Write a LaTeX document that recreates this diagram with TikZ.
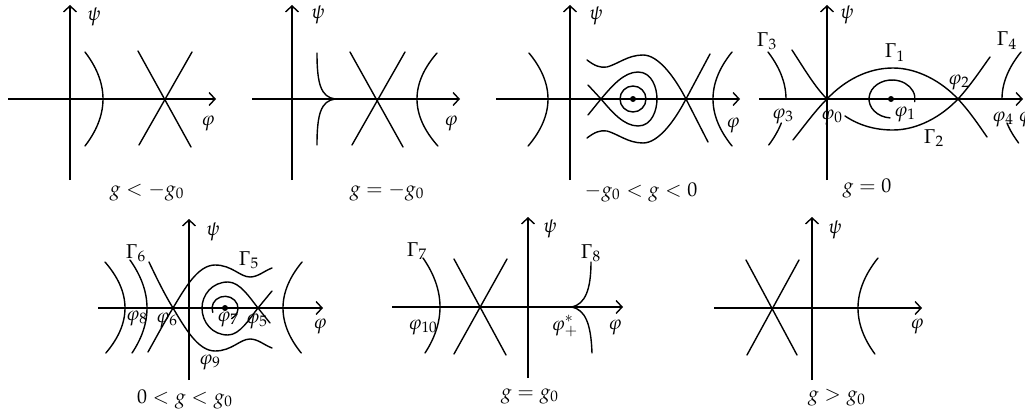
\documentclass[tikz,border=0pt]{standalone}
\usepackage{mathpazo}
\usetikzlibrary{arrows.meta}
\begin{document}
\begin{tikzpicture}[x=0.5pt,y=-0.5pt,
  curve/.style={line width=0.7pt, line cap=round},
  axis/.style={line width=0.7pt,-{Straight Barb[length=3pt,width=6.5pt,line width=0.7pt]}},
  lab/.style={inner sep=0pt, font=\fontsize{10}{12}\selectfont},
  dotstyle/.style={fill=black}]
\useasboundingbox (0,0) rectangle (1025,412);

% ---------- Panel 1: g < -g0
\draw[axis] (8,99) -- (216,99);
\draw[axis] (70,180) -- (70,5);
\draw[curve] plot[domain=-47:47,samples=40] ({103-0.00815*(\x)*(\x)},{99+\x});
\draw[curve] (138,51) -- (191,147);
\draw[curve] (192,52) -- (139,145);
\node[lab] (p1psi) at (94,17) {$\psi$};
\node[lab] (p1phi) at (208,123) {$\varphi$};
\node[lab] (p1cap) at (147,192) {$g<-g_0$};

% ---------- Panel 2: g = -g0
\draw[axis] (252,99) -- (460,99);
\draw[axis] (292,180) -- (292,5);
\draw[curve] (317,53) .. controls (317,84) and (321,97) .. (335,99) .. controls (321,101) and (317,114) .. (317,145);
\draw[curve] (350,52) -- (403,147);
\draw[curve] (405,52) -- (352,145);
\draw[curve] plot[domain=-46:47,samples=40] ({417+0.00945*(\x)*(\x)},{99+\x});
\node[lab] (p2psi) at (318,15) {$\psi$};
\node[lab] (p2phi) at (451,123) {$\varphi$};
\node[lab] (p2cap) at (387,192) {$g=-g_0$};

% ---------- Panel 3: -g0 < g < 0
\draw[axis] (496,99) -- (740,99);
\draw[axis] (570,180) -- (570,5);
\draw[curve] plot[domain=-46:47,samples=40] ({548-0.00898*(\x)*(\x)},{99+\x});
\draw[curve] plot[domain=-47:47,samples=40] ({713+0.0086*(\x)*(\x)},{99+\x});
\draw[curve] (633,99) circle[radius=13];
\fill[dotstyle] (633,99) circle[radius=3];
\draw[curve] (588,115) -- (601,99) .. controls (612,86) and (624,72) .. (638,72)
  .. controls (652,72) and (657,88) .. (657,99) .. controls (657,110) and (652,126) .. (638,126)
  .. controls (624,126) and (612,112) .. (601,99) -- (588,85);
\draw[curve] (587,60) .. controls (595,66) and (600,68) .. (607,67) .. controls (618,64) and (628,55) .. (643,55)
  .. controls (658,55) and (674,76) .. (686,99) -- (708,142);
\draw[curve] (587,138) .. controls (595,132) and (600,130) .. (607,131) .. controls (618,134) and (628,143) .. (643,143)
  .. controls (658,143) and (674,122) .. (686,99) -- (710,54);
\node[lab] (p3psi) at (596,16) {$\psi$};
\node[lab] (p3phi) at (733,125) {$\varphi$};
\node[lab] (p3cap) at (641,192) {$-g_0<g<0$};

% ---------- Panel 4: g = 0
\draw[axis] (759,99) -- (1023,99);
\draw[axis] (827,180) -- (827,5);
\draw[curve] (793,140) .. controls (805,125) and (815,111) .. (827,99) .. controls (845,80) and (868,68) .. (893,68)
  .. controls (918,68) and (942,82) .. (958,99) .. controls (970,112) and (978,124) .. (987,137);
\draw[curve] (792,50) .. controls (805,70) and (815,87) .. (827,99);
\draw[curve] (845,116) .. controls (860,126) and (876,130) .. (893,130) .. controls (918,130) and (942,116) .. (958,99)
  .. controls (970,86) and (980,71) .. (990,57);
\draw[curve] plot[domain=-47:0,samples=25] ({786-0.00815*(\x)*(\x)},{99+\x});
\draw[curve] plot[domain=24:46,samples=15] ({786-0.00815*(\x)*(\x)},{99+\x});
\draw[curve] plot[domain=-47:0,samples=25] ({1002+0.0086*(\x)*(\x)},{99+\x});
\draw[curve] plot[domain=24:44,samples=15] ({1002+0.0086*(\x)*(\x)},{99+\x});
\draw[curve] (890,117.9) arc[start angle=95, end angle=368, x radius=23, y radius=19];
\fill[dotstyle] (891,99) circle[radius=3];
\node[lab] (p4psi) at (847,15) {$\psi$};
\node[lab] (G3) at (767,41) {$\Gamma_3$};
\node[lab] (G1) at (895,53) {$\Gamma_1$};
\node[lab] (G4) at (1007,41) {$\Gamma_4$};
\node[lab] (f2) at (959,82) {$\varphi_2$};
\node[lab] (f3) at (783,116) {$\varphi_3$};
\node[lab] (f0) at (832,117) {$\varphi_0$};
\node[lab] (f1) at (905,114) {$\varphi_1$};
\node[lab] (f4) at (1003,119) {$\varphi_4$};
\node[lab] (G2) at (934,138) {$\Gamma_2$};
\node[lab] (p4phi) at (1025,119) {$\varphi$};
\node[lab] (p4cap) at (867,188) {$g=0$};

% ---------- Panel 5: 0 < g < g0
\draw[axis] (98,308) -- (323,308);
\draw[axis] (189,380) -- (189,219);
\draw[curve] plot[domain=-46:45,samples=40] ({125-0.00945*(\x)*(\x)},{308+\x});
\draw[curve] plot[domain=-48:45,samples=40] ({147-0.00738*(\x)*(\x)},{308+\x});
\draw[curve] plot[domain=-46:45,samples=40] ({283+0.009*(\x)*(\x)},{308+\x});
\draw[curve] (148,352) .. controls (157,336) and (165,321) .. (173,308) .. controls (185,288) and (198,265) .. (215,265)
  .. controls (232,265) and (240,277) .. (250,277) .. controls (258,277) and (264,271) .. (272,268);
\draw[curve] (149,262) .. controls (157,279) and (165,295) .. (173,308) .. controls (185,328) and (198,351) .. (215,351)
  .. controls (232,351) and (240,339) .. (250,339) .. controls (258,339) and (264,345) .. (272,348);
\draw[curve] (270,323) -- (258,308) .. controls (250,298) and (240,282) .. (228,282) .. controls (212,282) and (202,295) .. (202,308)
  .. controls (202,322) and (212,335) .. (228,335) .. controls (240,335) and (250,318) .. (258,308) -- (272,291);
\draw[curve] (212.8,312.4) arc[start angle=160, end angle=420, x radius=13, y radius=12];
\fill[dotstyle] (225,308) circle[radius=3];
\node[lab] (p5psi) at (213,232) {$\psi$};
\node[lab] (G6) at (136,253) {$\Gamma_6$};
\node[lab] (G5) at (249,260) {$\Gamma_5$};
\node[lab] (f8) at (137,318) {$\varphi_8$};
\node[lab] (f6) at (167,320) {$\varphi_6$};
\node[lab] (f7) at (228,319) {$\varphi_7$};
\node[lab] (f5) at (257,321) {$\varphi_5$};
\node[lab] (f9) at (210,362) {$\varphi_9$};
\node[lab] (p5phi) at (320,326) {$\varphi$};
\node[lab] (p5cap) at (185,399) {$0<g<g_0$};

% ---------- Panel 6: g = g0
\draw[axis] (392,307) -- (623,307);
\draw[axis] (528,378) -- (528,217);
\draw[curve] plot[domain=-49:46,samples=40] ({440-0.00708*(\x)*(\x)},{307+\x});
\draw[curve] (454,259) -- (506,355);
\draw[curve] (507,259) -- (454,354);
\draw[curve] (591,262) .. controls (591,290) and (585,304) .. (572,307) .. controls (585,310) and (591,323) .. (592,353);
\node[lab] (p6psi) at (550,229) {$\psi$};
\node[lab] (G7) at (417,251) {$\Gamma_7$};
\node[lab] (G8) at (591,253) {$\Gamma_8$};
\node[lab] (f10) at (423,327) {$\varphi_{10}$};
\node[lab] (fp) at (565,326) {$\varphi_+^*$};
\node[lab] (p6phi) at (615,327) {$\varphi$};
\node[lab] (p6cap) at (530,396) {$g=g_0$};

% ---------- Panel 7: g > g0
\draw[axis] (714,308) -- (922,308);
\draw[axis] (812,380) -- (812,217);
\draw[curve] (746,260) -- (797,355);
\draw[curve] (799,260) -- (747,355);
\draw[curve] plot[domain=-50:46,samples=40] ({858+0.008*(\x)*(\x)},{308+\x});
\node[lab] (p7psi) at (835,230) {$\psi$};
\node[lab] (p7phi) at (917,326) {$\varphi$};
\node[lab] (p7cap) at (837,398) {$g>g_0$};
\end{tikzpicture}
\end{document}
